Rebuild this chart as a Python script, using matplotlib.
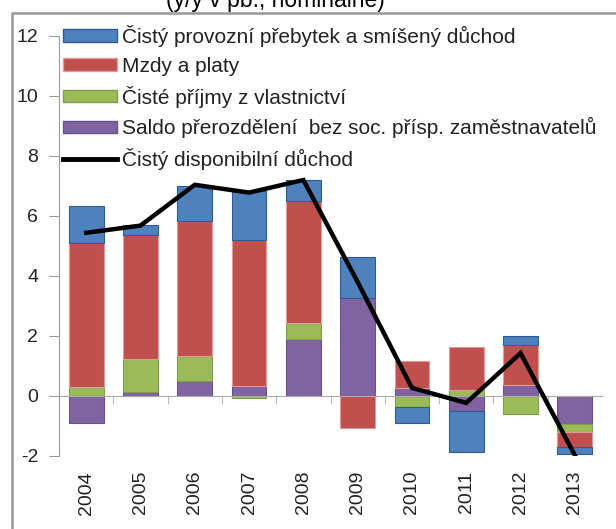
import numpy as np
import matplotlib.pyplot as plt
from matplotlib.patches import Rectangle
from matplotlib.lines import Line2D

years = ['2004', '2005', '2006', '2007', '2008', '2009', '2010', '2011', '2012', '2013']
provozni = [1.25, 0.33, 1.17, 1.62, 0.70, 1.36, -0.51, -1.39, 0.30, -0.24]
mzdy = [4.78, 4.15, 4.50, 4.87, 4.08, -1.08, 0.90, 1.44, 1.33, -0.48]
vlastnictvi = [0.31, 1.10, 0.84, -0.05, 0.51, 0.0, -0.38, 0.20, -0.60, -0.28]
saldo = [-0.91, 0.12, 0.50, 0.33, 1.91, 3.26, 0.28, -0.49, 0.37, -0.93]
disponibilni = [5.44, 5.68, 7.04, 6.78, 7.20, 3.80, 0.27, -0.23, 1.43, -1.97]

labels = ['Čistý provozní přebytek a smíšený důchod', 'Mzdy a platy',
          'Čisté příjmy z vlastnictví',
          'Saldo přerozdělení  bez soc. přísp. zaměstnavatelů',
          'Čistý disponibilní důchod']
colors = ['#4F81BD', '#C0504D', '#9BBB59', '#8064A2']
edges = ['#2C5B95', '#E09A98', '#7FA048', '#6A5190']


def run():
  plt.rcParams['font.family'] = ['Liberation Sans', 'DejaVu Sans']
  plt.rcParams['axes.unicode_minus'] = False
  fig = plt.figure(figsize=(6.16, 5.29), dpi=100)
  ax = fig.add_axes([59/616, 73/529, 543/616, 420/529])

  x = np.arange(len(years))
  pos = np.zeros(len(years))
  neg = np.zeros(len(years))
  # stacking order bottom->top: saldo, vlastnictvi, mzdy, provozni
  series = [(saldo, 3), (vlastnictvi, 2), (mzdy, 1), (provozni, 0)]
  for vals, i in series:
    v = np.array(vals)
    base = np.where(v >= 0, pos, neg)
    ax.bar(x, v, 0.64, bottom=base, color=colors[i], edgecolor=edges[i],
           linewidth=0.8, zorder=2)
    pos = pos + np.where(v >= 0, v, 0)
    neg = neg + np.where(v < 0, v, 0)

  ax.plot(x, disponibilni, color='black', linewidth=3.2, zorder=3,
          solid_joinstyle='miter')

  ax.set_xlim(-0.5, len(years) - 0.5)
  ax.set_ylim(-2, 12)
  ax.set_yticks(range(-2, 13, 2))
  ax.tick_params(axis='y', labelsize=14, length=7, color='#999999', pad=8,
                 labelcolor='#222222')
  for s in ['top', 'right']:
    ax.spines[s].set_visible(False)
  ax.spines['left'].set_color('#999999')
  ax.spines['bottom'].set_position(('data', 0))
  ax.spines['bottom'].set_color('#aaaaaa')
  ax.set_xticks(x)
  ax.set_xticklabels(years, rotation=90, fontsize=14, color='#222222')
  ax.set_xticks(np.arange(0.5, len(years) - 0.5), minor=True)
  ax.tick_params(axis='x', which='major', length=0, pad=54)
  ax.tick_params(axis='x', which='minor', length=6, color='#aaaaaa')

  handles = [Rectangle((0, 0), 1, 1, facecolor=colors[i], edgecolor=edges[i])
             for i in range(4)]
  handles.append(Line2D([], [], color='black', linewidth=3.5))
  leg = fig.legend(handles, labels, loc='upper left',
                   bbox_to_anchor=(63/616, 1 - 25/529), frameon=False,
                   fontsize=15, handlelength=2.6, handleheight=0.53,
                   handletextpad=0.25, labelspacing=0.47,
                   borderpad=0, borderaxespad=0)
  for t in leg.get_texts():
    t.set_color('#222222')

  # outer frame and cut-off title
  fig.patches.append(Rectangle((12/616, -0.1), 1.2, 1.1 - 13/529, fill=False,
                               edgecolor='#999999', linewidth=1.8,
                               transform=fig.transFigure))
  fig.text(275/616, 1 - 1/529, '(y/y v pb., nominálne)', ha='center',
           va='center', fontsize=16.5)

  fig.savefig('out.png', dpi=100)


if __name__ == '__main__':
  run()
